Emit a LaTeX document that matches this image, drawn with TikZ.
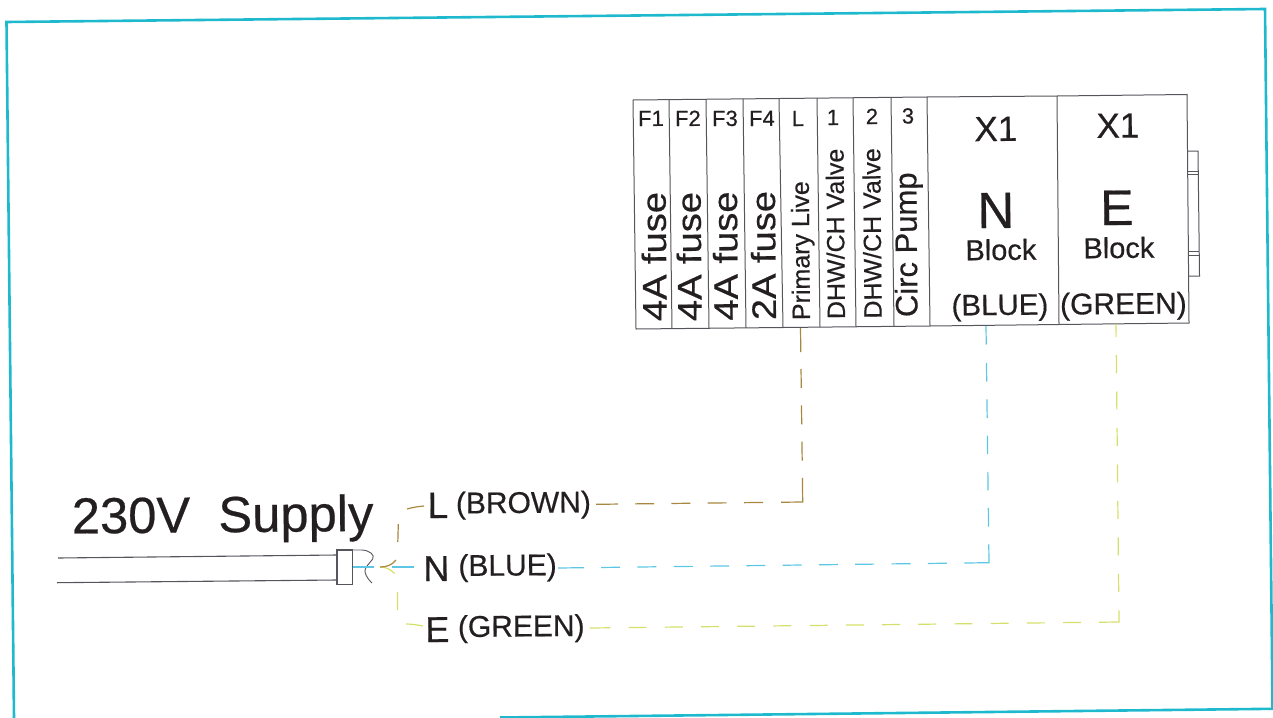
\documentclass[tikz,border=0pt]{standalone}
\usepackage{fontspec}
\setmainfont[RawFeature={embolden=0.45}]{Liberation Sans}
\newcommand{\fsz}[1]{\fontsize{#1}{#1}\selectfont}
\definecolor{frameteal}{HTML}{1FB9CE}
\definecolor{inkdark}{HTML}{231F20}
\definecolor{rulegrey}{HTML}{55555C}
\definecolor{wirebrown}{HTML}{A8873F}
\definecolor{wireblue}{HTML}{5CC6E4}
\definecolor{wiregreen}{HTML}{D5E06A}
\tikzset{
  frameline/.style={draw=frameteal,line width=2.6pt,line cap=butt},
  blockline/.style={draw=rulegrey,line width=1pt},
  cableline/.style={draw=rulegrey,line width=1.1pt},
  label/.style={inner sep=0pt,outer sep=0pt,text=inkdark,anchor=base,rotate=0.5},
  vlabel/.style={inner sep=0pt,outer sep=0pt,text=inkdark,anchor=base west,rotate=90.5},
  brownwire/.style={draw=wirebrown,line width=1.2pt},
  bluewire/.style={draw=wireblue,line width=1.2pt},
  greenwire/.style={draw=wiregreen,line width=1.2pt},
}
\begin{document}
\begin{tikzpicture}[x=1pt,y=-1pt]
\useasboundingbox (0,0) rectangle (1273,717);
% outer frame
\draw[frameline] (1273,708.8) -- (500,717.5);
\draw[frameline,line cap=butt] (14,718) -- (6.5,22) -- (1265,9) -- (1272,657) -- (1272.5,709);
% terminal block
\draw[blockline] (633,100) -- (927,97) -- (1057,96) -- (1187,94.5) -- (1189,323) -- (1059,324.5) -- (930,326) -- (636,329) -- cycle;
\foreach \a/\b in {669/672,706/709,743/746,779/783,817/820,853/856,891/894}{
  \path (633,100) -- (927,97) coordinate[pos={(\a-633)/294}] (t);
  \path (636,329) -- (930,326) coordinate[pos={(\b-636)/294}] (u);
  \draw[blockline] (t) -- (u);
}
\draw[blockline] (927,97) -- (930,326);
\draw[blockline] (1057,96) -- (1059,324.5);
% side connector
\draw[blockline] (1187,151) -- (1198,151) -- (1199.5,276) -- (1188,276);
\draw[blockline] (1187.5,171) -- (1198,171) (1187.5,174) -- (1198,174)
                 (1188,251) -- (1199,251) (1188,255) -- (1199,255);
% headers
\node[label] (hF1) at (651,126) {\fsz{22}F1};
\node[label] (hF2) at (688,126) {\fsz{22}F2};
\node[label] (hF3) at (725,126) {\fsz{22}F3};
\node[label] (hF4) at (762,126) {\fsz{22}F4};
\node[label] (hL)  at (798,126) {\fsz{22}L};
\node[label] (h1)  at (833,125) {\fsz{22}1};
\node[label] (h2)  at (872,124) {\fsz{22}2};
\node[label] (h3)  at (908,123.5) {\fsz{22}3};
% rotated captions
\node[vlabel] (vA) at (666.7,321) {\fsz{34}\scalebox{1.12}[1]{4A fuse}};
\node[vlabel] (vB) at (701.7,321) {\fsz{34}\scalebox{1.12}[1]{4A fuse}};
\node[vlabel] (vC) at (738,320.5) {\fsz{34}\scalebox{1.12}[1]{4A fuse}};
\node[vlabel] (vD) at (776,320) {\fsz{34}\scalebox{1.12}[1]{2A fuse}};
\node[vlabel] (vE) at (810,320) {\fsz{25}Primary Live};
\node[vlabel] (vF) at (845,319) {\fsz{25}DHW/CH Valve};
\node[vlabel] (vG) at (881.7,318.5) {\fsz{25}DHW/CH Valve};
\node[vlabel] (vH) at (917.5,317) {\fsz{31}Circ Pump};
% X1 cells
\node[label] (xN) at (996,141) {\fsz{35}X1};
\node[label] (xE) at (1118,137.7) {\fsz{35}X1};
\node[label] (nN) at (996,228) {\fsz{51}N};
\node[label] (nE) at (1117,225) {\fsz{50}E};
\node[label] (bN) at (1001,260) {\fsz{29}Block};
\node[label] (bE) at (1119,258) {\fsz{29}Block};
\node[label] (cN) at (1000,315) {\fsz{29.5}(BLUE)};
\node[label] (cE) at (1123.5,314) {\fsz{30}(GREEN)};
% supply
\node[label,anchor=base west] (supply) at (72,533.5) {\fsz{50.7}230V\ \ Supply};
\node[label] (lL) at (438,518) {\fsz{37}L};
\node[label,anchor=base west] (lBrown) at (456,513.5) {\fsz{30}(BROWN)};
\node[label] (lN) at (436.5,581) {\fsz{36}N};
\node[label,anchor=base west] (lBlue) at (458.5,576) {\fsz{30}(BLUE)};
\node[label] (lE) at (437.5,642) {\fsz{36}E};
\node[label,anchor=base west] (lGreen) at (458,637) {\fsz{30}(GREEN)};
% cable
\coordinate (gripTL) at (337,550);
\coordinate (gripBR) at (352.7,584.7);
\draw[cableline] (58,558) -- (337,555);
\draw[cableline] (57,582.7) -- (337,580);
\draw[cableline] (gripTL) rectangle (gripBR);
\draw[cableline,line width=.9pt] (352.7,550) -- (362,550) .. controls (370,550.5) and (375,555) .. (372.7,559)
   .. controls (369,564) and (364,568) .. (365,572) .. controls (366,577) and (370,581) .. (372,583);
% wires: terminals, corners, free ends
\coordinate (tBrown) at (800.5,328);
\coordinate (kBrown) at (802.7,502);
\coordinate (eBrown) at (596,504.3);
\coordinate (tBlue) at (986,326);
\coordinate (kBlue) at (989,562.7);
\coordinate (eBlue) at (558,568);
\coordinate (tGreen) at (1116,324);
\coordinate (kGreen) at (1119,622);
\coordinate (eGreen) at (590,628);
\draw[brownwire,dash pattern=on 24pt off 17pt on 19pt off 17.3pt on 19pt off 17.3pt on 19pt off 17.3pt on 45.8pt off 18pt on 19pt off 17.3pt on 19pt off 17.3pt on 19pt off 17.3pt on 19pt off 17.3pt on 24pt off 50pt]
  (tBrown) -- (kBrown) -- (eBrown);
\draw[bluewire,dash pattern=on 18.5pt off 18.5pt on 18.5pt off 17.8pt on 18.5pt off 17.8pt on 18.5pt off 17.8pt on 18.5pt off 17.8pt on 18.5pt off 17.8pt on 42.9pt off 17.5pt on 19pt off 17.3pt on 19pt off 17.3pt on 19pt off 17.3pt on 19pt off 17.3pt on 19pt off 17.3pt on 19pt off 17.3pt on 19pt off 17.3pt on 19pt off 17.3pt on 19pt off 17.3pt on 19pt off 17.3pt on 27pt off 50pt]
  (tBlue) -- (kBlue) -- (eBlue);
\draw[greenwire,dash pattern=on 13pt off 18pt on 18pt off 18.5pt on 18pt off 18.5pt on 18pt off 18.5pt on 18pt off 18.5pt on 18pt off 18.5pt on 18pt off 18.5pt on 18pt off 18.5pt on 31.5pt off 18pt on 18pt off 18.2pt on 18pt off 18.2pt on 18pt off 18.2pt on 18pt off 18.2pt on 18pt off 18.2pt on 18pt off 18.2pt on 18pt off 18.2pt on 18pt off 18.2pt on 18pt off 18.2pt on 18pt off 18.2pt on 18pt off 18.2pt on 18pt off 18.2pt on 18pt off 18.2pt on 21pt off 50pt]
  (tGreen) -- (kGreen) -- (eGreen);
% loose core ends at the cable
\draw[bluewire] (353,567) -- (374,567) (392,567) -- (414,567);
\draw[greenwire] (380,567) .. controls (387,567) and (391,570) .. (394.5,573.5)
  (397.5,592) -- (397.5,610) (406,624) .. controls (412,624) and (418,625) .. (423,626);
\draw[brownwire] (380,567) .. controls (387,567) and (392,565) .. (396,560)
  (398.3,524) -- (397.8,542) (407,509) .. controls (412,507.5) and (418,506.5) .. (424,506);
\end{tikzpicture}
\end{document}
